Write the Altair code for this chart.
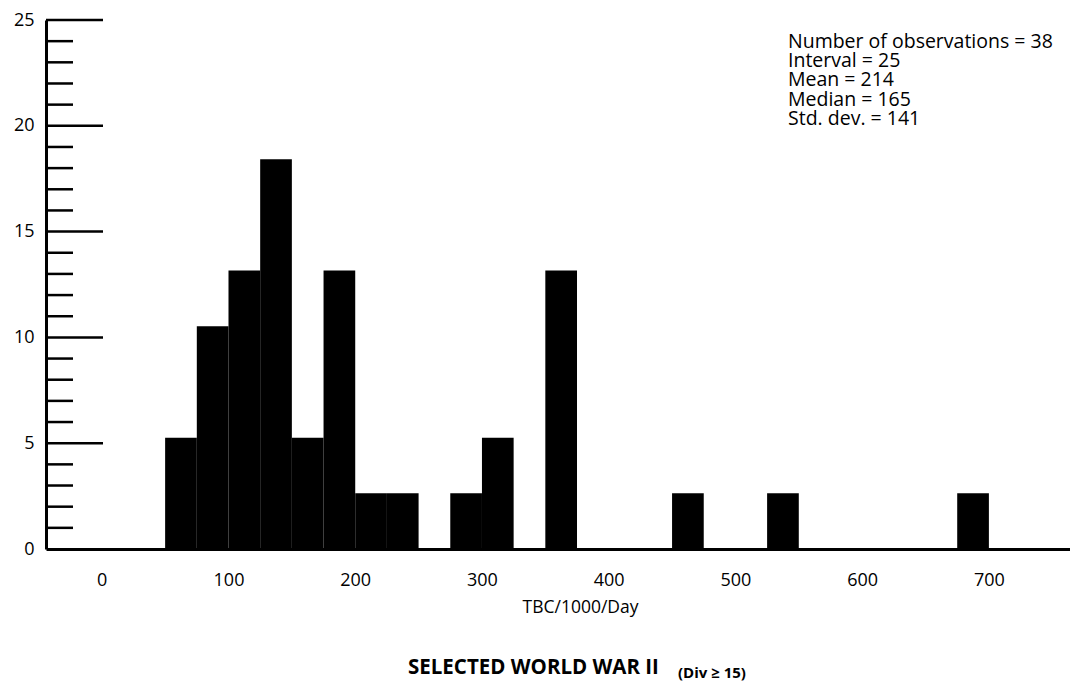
import altair as alt
import pandas as pd

# ---- data ----
bin_start = [50, 75, 100, 125, 150, 175, 200, 225, 250, 275, 300, 325, 350,
             375, 400, 425, 450, 475, 500, 525, 550, 575, 600, 625, 650, 675]
counts = [2, 4, 5, 7, 2, 5, 1, 1, 0, 1, 2, 0, 5,
          0, 0, 0, 1, 0, 0, 1, 0, 0, 0, 0, 0, 1]
n_obs = 38
interval = 25
x_tick_values = [0, 100, 200, 300, 400, 500, 600, 700]
y_label_values = [0, 5, 10, 15, 20, 25]
y_major_ticks = [5, 10, 15, 20, 25]
y_minor_ticks = [1, 2, 3, 4, 6, 7, 8, 9, 11, 12, 13, 14, 16, 17, 18, 19, 21, 22, 23, 24]
stats_lines = ["Number of observations = 38", "Interval = 25", "Mean = 214",
               "Median = 165", "Std. dev. = 141"]
x_title = "TBC/1000/Day"
main_title = "SELECTED WORLD WAR II"
sub_title = "(Div \u2265 15)"

df = pd.DataFrame({
    "start": bin_start,
    "end": [b + interval for b in bin_start],
    "pct": [c / n_obs * 100 for c in counts],
})

FONT = "Open Sans"
W, H = 1024, 529

xscale = alt.Scale(domain=[-44, 764], nice=False, zero=False)
yscale = alt.Scale(domain=[0, 25], nice=False)

y_axis = alt.Axis(values=y_label_values, title=None, ticks=False, tickSize=0,
                  grid=False, domainColor="black", domainWidth=3,
                  labelFont=FONT, labelFontSize=18, labelColor="black",
                  labelPadding=12, labelFlush=False, labelBaseline="middle")

bars = alt.Chart(df).mark_rect(color="black").encode(
    x=alt.X("start:Q", scale=xscale,
            axis=alt.Axis(values=x_tick_values, title=x_title, ticks=False, tickSize=0,
                          grid=False, domainColor="black", domainWidth=3,
                          labelFont=FONT, labelFontSize=18, labelColor="black",
                          labelBaseline="middle", labelPadding=31, labelFlush=False,
                          titleFont=FONT, titleFontSize=17.5, titleFontWeight="normal",
                          titleColor="black", titleX=534, titleY=58,
                          titleBaseline="middle", titleAlign="center")),
    x2="end:Q",
    y=alt.Y("pct:Q", scale=yscale, axis=y_axis),
    y2=alt.datum(0),
)

minor = alt.Chart(pd.DataFrame({"v": y_minor_ticks})).mark_rule(
    color="black", strokeWidth=2.5).encode(
    y=alt.Y("v:Q", scale=yscale, axis=y_axis),
    x=alt.value(0), x2=alt.value(27),
)
major = alt.Chart(pd.DataFrame({"v": y_major_ticks})).mark_rule(
    color="black", strokeWidth=2.5).encode(
    y=alt.Y("v:Q", scale=yscale, axis=y_axis),
    x=alt.value(0), x2=alt.value(57),
)

stats = alt.Chart(pd.DataFrame({"t": ["\n".join(stats_lines)]})).mark_text(
    align="left", baseline="alphabetic", lineBreak="\n", font=FONT, fontSize=19.5,
    lineHeight=19.2, color="black").encode(
    x=alt.value(742), y=alt.value(28), text="t:N")

title_main = alt.Chart(pd.DataFrame({"t": [main_title]})).mark_text(
    align="left", baseline="alphabetic", font=FONT, fontSize=20.5, fontWeight="bold",
    color="black").encode(x=alt.value(362), y=alt.value(654), text="t:N")
title_sub = alt.Chart(pd.DataFrame({"t": [sub_title]})).mark_text(
    align="left", baseline="alphabetic", font=FONT, fontSize=15, fontWeight="bold",
    color="black").encode(x=alt.value(632), y=alt.value(658), text="t:N")

chart = alt.layer(bars, minor, major, stats, title_main, title_sub).properties(
    width=W, height=H,
    autosize=alt.AutoSizeParams(type="none"),
    padding={"left": 38, "top": 12, "right": 0, "bottom": 134},
).configure(background="white", view=alt.ViewConfig(stroke=None))

chart.save("out.html", embed_options={"renderer": "svg", "actions": False})
